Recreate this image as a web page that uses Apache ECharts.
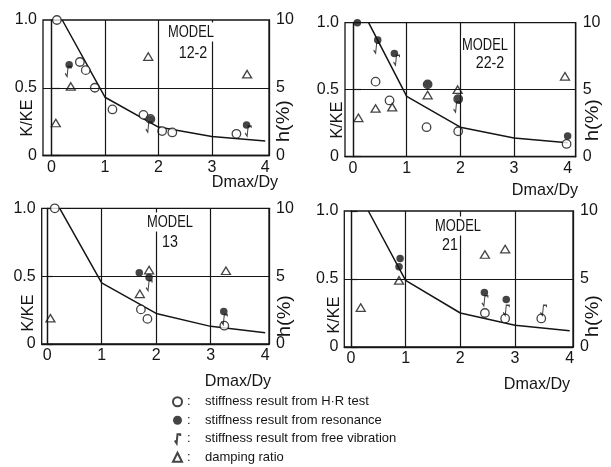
<!DOCTYPE html>
<html>
<head>
<meta charset="utf-8">
<script src="https://cdn.jsdelivr.net/npm/echarts@6/dist/echarts.min.js"></script>
<style>
  html, body { margin: 0; padding: 0; background: #fff; }
  #chart { width: 611px; height: 467px; }
</style>
</head>
<body>
<div id="chart"></div>
<script>
// values; [Dmax/Dy, K/KE] and [Dmax/Dy, h(%)]
const models = ["12-2", "22-2", "13", "21"];

const curve12 = [[0.2, 1.0], [1, 0.43], [2, 0.21], [3, 0.14], [4, 0.107]];
const hr12 = [[0.1, 1.0], [0.53, 0.69], [0.64, 0.63], [0.81, 0.5], [1.14, 0.34], [1.72, 0.3], [1.85, 0.27], [2.07, 0.18], [2.26, 0.17], [3.46, 0.16]];
const res12 = [[0.33, 0.67], [1.85, 0.27], [3.65, 0.225]];
const free12 = [[0.31, 0.62], [1.82, 0.21], [3.68, 0.18]];
const damp12 = [[0.08, 2.4], [0.36, 5.1], [1.81, 7.3], [3.66, 6.0]];

const curve222 = [[0.29, 1.0], [1, 0.45], [2, 0.22], [3, 0.14], [4, 0.105]];
const hr222 = [[0.42, 0.56], [0.68, 0.42], [1.39, 0.54], [1.37, 0.22], [1.96, 0.43], [1.96, 0.19], [3.98, 0.095]];
const res222 = [[0.08, 1.0], [0.46, 0.87], [0.77, 0.77], [1.39, 0.54], [1.96, 0.43], [4.0, 0.155]];
const free222 = [[0.44, 0.81], [0.81, 0.72], [1.93, 0.37]];
const damp222 = [[0.1, 2.9], [0.42, 3.6], [0.73, 3.7], [1.39, 4.6], [1.95, 5.0], [3.95, 6.0]];

const curve13 = [[0.23, 1.0], [1, 0.45], [2, 0.225], [3, 0.13], [4, 0.083]];
const hr13 = [[0.14, 1.0], [1.72, 0.255], [1.84, 0.185], [3.25, 0.135]];
const res13 = [[1.69, 0.525], [1.87, 0.49], [3.24, 0.24]];
const free13 = [[1.87, 0.43], [3.25, 0.18]];
const damp13 = [[0.06, 1.9], [1.7, 3.7], [1.87, 5.45], [3.28, 5.4]];

const curve21 = [[0.32, 1.0], [1, 0.49], [2, 0.25], [3, 0.16], [4, 0.12]];
const hr21 = [[2.45, 0.25], [2.82, 0.21], [3.48, 0.21]];
const res21 = [[0.9, 0.65], [0.88, 0.59], [2.44, 0.4], [2.84, 0.35]];
const free21 = [[2.45, 0.34], [2.84, 0.27], [3.52, 0.27]];
const damp21 = [[0.18, 2.9], [0.88, 4.9], [2.45, 6.8], [2.82, 7.2]];

const leftTicks = [0, 0.5, 1.0];
const rightTicks = [0, 5, 10];
const xGridLines = [0, 1, 2, 3];
const yGridLines = [0.5];

const NAME_HR = "stiffness result from H·R test";
const NAME_RES = "stiffness result from resonance";
const NAME_FREE = "stiffness result from free vibration";
const NAME_DAMP = "damping ratio";

const FONT = "'Liberation Sans', Arial, sans-serif";
const INK = "#151515";
const FREE_ICON = "path://M0,8 L2,11 L3,1 L6,1 L6,3";

const panelData = [
  { curve: curve12, hr: hr12, res: res12, free: free12, damp: damp12 },
  { curve: curve222, hr: hr222, res: res222, free: free222, damp: damp222 },
  { curve: curve13, hr: hr13, res: res13, free: free13, damp: damp13 },
  { curve: curve21, hr: hr21, res: res21, free: free21, damp: damp21 },
];

// frame of each panel in pixels, plus where its loose texts sit
const layout = [
  { left: 43, top: 20, width: 226, height: 135.5, xMin: -0.16, xMax: 4.07, tick: 8.5,
    kke: [27, 118], h: [284, 121], dm: [245, 182], model: [191, 32], num: [193, 53] },
  { left: 345, top: 22.7, width: 230.7, height: 134, xMin: -0.15, xMax: 4.15, tick: 8,
    kke: [337, 120], h: [593, 120], dm: [545, 190], model: [485, 45], num: [490, 63] },
  { left: 41.7, top: 208.3, width: 227.3, height: 135.7, xMin: -0.1, xMax: 4.07, tick: 5.5,
    kke: [28, 313], h: [285, 316], dm: [238, 381], model: [170, 222], num: [170, 242] },
  { left: 344.3, top: 211, width: 228.7, height: 136, xMin: -0.12, xMax: 4.06, tick: 6.7,
    kke: [334, 315], h: [593, 316], dm: [537, 384], model: [458, 226], num: [450, 245] },
];

const grid = [], xAxis = [], yAxis = [], series = [], graphic = [];

layout.forEach((p, i) => {
  const d = panelData[i];
  grid.push({
    left: p.left, top: p.top, width: p.width, height: p.height,
    show: true, borderColor: INK, borderWidth: 1.3,
  });
  xAxis.push({
    type: "value", gridIndex: i, min: p.xMin, max: p.xMax,
    minInterval: 1, maxInterval: 1,
    axisLine: { show: true, lineStyle: { color: INK, width: 1.3 } },
    axisTick: { show: false },
    axisLabel: {
      margin: 4, fontSize: 16, color: INK, fontFamily: FONT,
      formatter: (v) => (Number.isInteger(v) ? String(v) : ""),
    },
    splitLine: { show: false },
  });
  yAxis.push({
    type: "value", gridIndex: i, position: "left",
    min: leftTicks[0], max: leftTicks[2], interval: leftTicks[1],
    axisLine: { show: true, lineStyle: { color: INK, width: 1.3 } },
    axisTick: { show: true, inside: true, length: p.tick, lineStyle: { color: INK, width: 1.2 } },
    axisLabel: {
      margin: 6, fontSize: 16, color: INK, fontFamily: FONT,
      formatter: (v) => (v === 0 ? "0" : v.toFixed(1)),
    },
    splitLine: { show: false },
  });
  yAxis.push({
    type: "value", gridIndex: i, position: "right",
    min: rightTicks[0], max: rightTicks[2], interval: rightTicks[1],
    axisLine: { show: true, lineStyle: { color: INK, width: 1.3 } },
    axisTick: { show: false },
    axisLabel: { margin: 7, fontSize: 16, color: INK, fontFamily: FONT },
    splitLine: { show: false },
  });

  const yl = i * 2, yr = i * 2 + 1;
  series.push({
    type: "line", name: "curve", xAxisIndex: i, yAxisIndex: yl, data: d.curve,
    symbol: "none", silent: true, lineStyle: { color: INK, width: 1.5 }, z: 2,
    markLine: {
      silent: true, symbol: ["none", "none"], label: { show: false },
      lineStyle: { color: INK, width: 1.2, type: "solid" },
      data: xGridLines.map((v) => ({ xAxis: v })).concat(yGridLines.map((v) => ({ yAxis: v }))),
    },
  });
  series.push({
    type: "scatter", name: NAME_HR, xAxisIndex: i, yAxisIndex: yl, data: d.hr,
    symbol: "circle", symbolSize: 8.5, z: 3,
    itemStyle: { color: "#fff", borderColor: INK, borderWidth: 1.3 },
  });
  series.push({
    type: "scatter", name: NAME_RES, xAxisIndex: i, yAxisIndex: yl, data: d.res,
    symbol: "circle", symbolSize: 7.5, z: 4,
    itemStyle: { color: INK },
  });
  series.push({
    type: "scatter", name: NAME_FREE, xAxisIndex: i, yAxisIndex: yl, data: d.free,
    symbol: FREE_ICON, symbolSize: [6, 10], z: 4,
    itemStyle: { color: "rgba(0,0,0,0)", borderColor: INK, borderWidth: 1.3 },
  });
  series.push({
    type: "scatter", name: NAME_DAMP, xAxisIndex: i, yAxisIndex: yr, data: d.damp,
    symbol: "triangle", symbolSize: [9, 7.5], z: 3,
    itemStyle: { color: "#fff", borderColor: INK, borderWidth: 1.3 },
  });

  const txt = (pos, text, size, rot, sx, extra) => ({
    type: "text", x: pos[0], y: pos[1], rotation: rot || 0, scaleX: sx || 1, z: 100,
    style: Object.assign({
      text: text, font: size + "px " + FONT, fill: INK,
      textAlign: "center", textVerticalAlign: "middle",
    }, extra || {}),
  });
  graphic.push(txt(p.kke, "K/KE", 17, Math.PI / 2, 0.95));
  graphic.push(txt(p.h, "h(%)", 18, Math.PI / 2, 1.1));
  graphic.push(txt(p.dm, "Dmax/Dy", 17, 0, 0.95));
  graphic.push(txt(p.model, "MODEL", 17, 0, 0.76, { backgroundColor: "#fff", padding: [1, 1] }));
  graphic.push(txt(p.num, models[i], 17, 0, 0.84));
});

const chart = echarts.init(document.getElementById("chart"));
chart.setOption({
  animation: false,
  backgroundColor: "#fff",
  textStyle: { fontFamily: FONT },
  grid, xAxis, yAxis, series, graphic,
  legend: {
    data: [NAME_HR, NAME_RES, NAME_FREE, NAME_DAMP],
    orient: "vertical", left: 172, top: 392.5, padding: 0,
    itemGap: 0, itemWidth: 9, itemHeight: 9,
    selectedMode: false,
    formatter: (n) => ":    " + n,
    textStyle: { fontSize: 13, lineHeight: 18.5, color: INK, fontFamily: FONT },
  },
});
</script>
</body>
</html>
